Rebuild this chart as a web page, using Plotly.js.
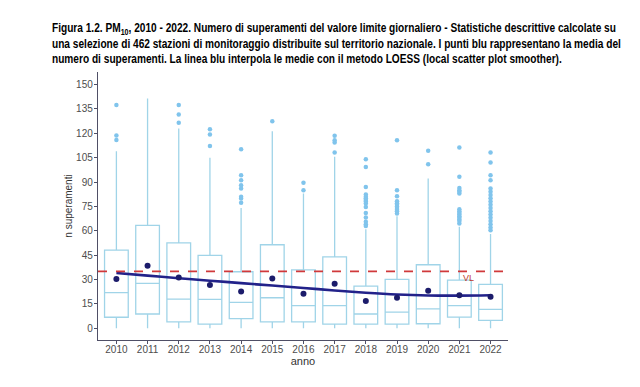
<!DOCTYPE html>
<html>
<head>
<meta charset="utf-8">
<script src="https://cdn.plot.ly/plotly-3.0.1.min.js"></script>
<style>html,body{margin:0;padding:0;background:#fff;}#chart{width:640px;height:387px;}</style>
</head>
<body>
<div id="chart"></div>
<script>
// ---- data ----
const years      = [2010, 2011, 2012, 2013, 2014, 2015, 2016, 2017, 2018, 2019, 2020, 2021, 2022];
const q1         = [6.8, 8.8, 3.9, 2.6, 5.9, 3.9, 3.9, 2.6, 2.6, 2.6, 2.8, 6.9, 4.9];
const medians    = [21.9, 27.7, 18.0, 17.8, 16.0, 18.8, 13.9, 13.9, 8.8, 10.0, 11.9, 13.9, 11.7];
const q3         = [48.1, 63.3, 52.6, 44.9, 34.8, 51.4, 36.0, 44.0, 26.0, 30.1, 39.1, 29.7, 27.0];
const lowerFence = [0, 0, 0, 0, 0, 0, 0, 0, 0, 0, 0, 0, 0];
const upperFence = [109, 141.4, 123, 105, 74, 121.3, 83, 105.5, 61, 69, 92.2, 62.5, 58];
const means      = [30.3, 38.5, 31.3, 26.6, 22.7, 30.7, 21.3, 27.4, 16.8, 18.8, 23.1, 20.3, 19.4];
const loess      = [34.0, 32.4, 30.8, 29.3, 27.8, 26.3, 24.8, 23.3, 21.9, 20.8, 20.2, 20.1, 20.3];
const outlierYears = [
  2010, 2010, 2010,
  2012, 2012, 2012,
  2013, 2013, 2013,
  2014, 2014, 2014, 2014, 2014, 2014, 2014, 2014,
  2015,
  2016, 2016,
  2017, 2017, 2017, 2017,
  2018, 2018, 2018, 2018, 2018, 2018, 2018, 2018, 2018, 2018, 2018, 2018, 2018, 2018, 2018,
  2019, 2019, 2019, 2019, 2019, 2019, 2019, 2019, 2019, 2019, 2019,
  2020, 2020,
  2021, 2021, 2021, 2021, 2021, 2021, 2021, 2021, 2021, 2021, 2021, 2021, 2021, 2021, 2021,
  2022, 2022, 2022, 2022, 2022, 2022, 2022, 2022, 2022, 2022, 2022, 2022, 2022, 2022, 2022, 2022, 2022, 2022
];
const outlierValues = [
  137.4, 118.6, 115.9,
  137.4, 131.5, 126.4,
  122.5, 119.2, 112.2,
  110.2, 94.2, 91.1, 88, 86, 80.9, 79.9, 77.2,
  127.4,
  89.5, 85,
  118.4, 115.7, 114.3, 108.2,
  104, 99.3, 87, 82.4, 81, 80, 79, 78, 76.8, 74.7, 71, 68.2, 65.5, 64, 62.9,
  115.7, 85, 81.3, 78.2, 77, 76, 75, 74, 73, 72, 70.7,
  109.2, 101,
  111.2, 93.2, 86.4, 85, 84, 83, 73.3, 72, 71, 70, 69, 68, 67, 66, 64.5,
  108.2, 102, 94.2, 91.1, 86, 84, 82, 80, 78, 76, 74, 72, 70, 68, 66, 64, 62, 60.4
];
const VL = 35;
const yTicks = [0, 15, 30, 45, 60, 75, 90, 105, 120, 135, 150];

// ---- styles ----
const boxColor = 'rgb(160,212,232)';
const outlierColor = 'rgb(128,196,236)';
const navy = '#1c1c6b';
const axisColor = '#4f4f66';
const tickFont = {family: 'Liberation Sans, Arial, sans-serif', size: 10, color: '#4d4d4d'};

const traces = [
  {
    type: 'box',
    x: years,
    q1: q1, median: medians, q3: q3,
    lowerfence: lowerFence, upperfence: upperFence,
    width: 0.76,
    whiskerwidth: 0,
    fillcolor: 'rgba(0,0,0,0)',
    line: {color: boxColor, width: 1.3},
    boxpoints: false,
    hoverinfo: 'skip',
    showlegend: false
  },
  {
    type: 'scatter', mode: 'markers',
    x: outlierYears, y: outlierValues,
    marker: {color: outlierColor, size: 4.5},
    showlegend: false, hoverinfo: 'skip'
  },
  {
    type: 'scatter', mode: 'lines',
    x: years, y: loess,
    line: {color: '#22228a', width: 2.6, shape: 'spline'},
    showlegend: false, hoverinfo: 'skip'
  },
  {
    type: 'scatter', mode: 'markers',
    x: years, y: means,
    marker: {color: navy, size: 6},
    showlegend: false, hoverinfo: 'skip'
  }
];

const TITLE_X = 52;
const layout = {
  width: 640, height: 387,
  margin: {l: 98, r: 132, t: 72, b: 47, pad: 0},
  paper_bgcolor: '#fff', plot_bgcolor: '#fff',
  title: {
    text: 'Figura 1.2. PM<sub>10</sub>, 2010 - 2022. Numero di superamenti del valore limite giornaliero - Statistiche descrittive calcolate su<br>una selezione di 462 stazioni di monitoraggio distribuite sul territorio nazionale. I punti blu rappresentano la media del<br>numero di superamenti. La linea blu interpola le medie con il metodo LOESS (local scatter plot smoother).',
    x: TITLE_X / 640, xanchor: 'left', xref: 'container',
    y: 1 - 32 / 387, yanchor: 'top', yref: 'container',
    font: {family: 'Liberation Sans, Arial, sans-serif', size: 12, color: '#000', weight: 'bold'}
  },
  xaxis: {
    range: [2009.41, 2022.56],
    tickmode: 'array', tickvals: years, ticktext: years.map(String),
    showgrid: false, zeroline: false,
    showline: true, linecolor: axisColor, linewidth: 1.2,
    ticks: 'outside', ticklen: 3, tickcolor: axisColor,
    ticklabelstandoff: -3,
    tickfont: tickFont,
    title: {text: 'anno', font: {family: 'Liberation Sans, Arial, sans-serif', size: 11, color: '#333'}, standoff: 0}
  },
  yaxis: {
    range: [-7.2, 157.7],
    tickmode: 'array', tickvals: yTicks,
    showgrid: false, zeroline: false,
    showline: true, linecolor: axisColor, linewidth: 1.2,
    ticks: 'outside', ticklen: 3, tickcolor: axisColor,
    ticklabelstandoff: -1,
    tickfont: tickFont,
    title: {text: 'n superamenti', font: {family: 'Liberation Sans, Arial, sans-serif', size: 10, color: '#333'}, standoff: 1}
  },
  shapes: [
    {type: 'line', xref: 'paper', x0: 0, x1: 1, yref: 'y', y0: VL, y1: VL,
     line: {color: '#d0393b', width: 1.6, dash: 'dash'}, layer: 'above'}
  ],
  annotations: [
    {x: 2021.3, y: VL, xref: 'x', yref: 'y', text: 'VL', showarrow: false,
     yshift: -7, font: {family: 'Liberation Sans, Arial, sans-serif', size: 9, color: '#c0392b'}}
  ]
};

Plotly.newPlot('chart', traces, layout, {displayModeBar: false, staticPlot: true}).then(function () {
  // condense the title horizontally (the reference uses a narrow typeface)
  const t = document.querySelector('.gtitle');
  if (t) {
    const s = 0.845;
    t.setAttribute('transform', 'matrix(' + s + ',0,0,1,' + (TITLE_X * (1 - s)) + ',0)');
  }
});
</script>
</body>
</html>
